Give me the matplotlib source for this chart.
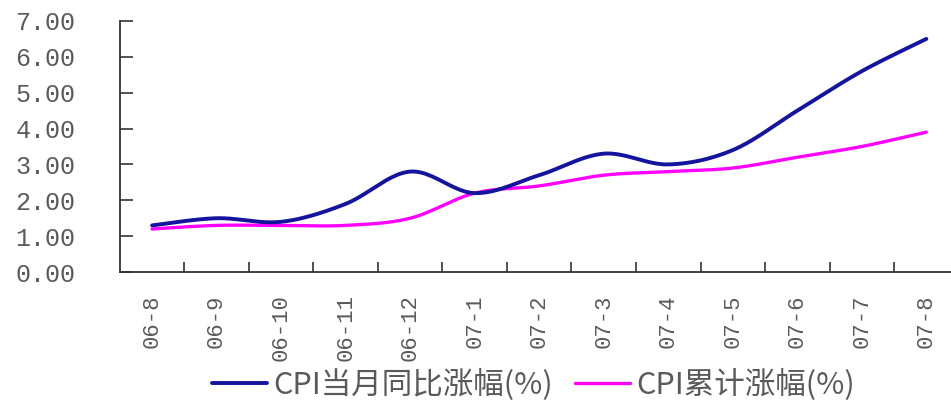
import numpy as np
import matplotlib
matplotlib.use("Agg")
import matplotlib.pyplot as plt
from matplotlib.ticker import FixedLocator, NullFormatter

months = ["06-8", "06-9", "06-10", "06-11", "06-12", "07-1", "07-2",
          "07-3", "07-4", "07-5", "07-6", "07-7", "07-8"]
cpi_monthly = [1.3, 1.5, 1.4, 1.9, 2.8, 2.2, 2.7, 3.3, 3.0, 3.4, 4.5, 5.6, 6.5]
cpi_cumulative = [1.2, 1.3, 1.3, 1.3, 1.5, 2.2, 2.4, 2.7, 2.8, 2.9, 3.2, 3.5, 3.9]

label_monthly = "CPI当月同比涨幅(%)"
label_cumulative = "CPI累计涨幅(%)"

GREY = "#5a5a5a"


def smooth(ys, steps=24):
    """Catmull-Rom curve through the points, like a smoothed line chart."""
    xs = np.arange(len(ys), dtype=float)
    ys = np.asarray(ys, dtype=float)
    px = np.concatenate([[xs[0]], xs, [xs[-1]]])
    py = np.concatenate([[ys[0]], ys, [ys[-1]]])
    out_x, out_y = [], []
    t = np.linspace(0, 1, steps, endpoint=False)
    for i in range(1, len(px) - 2):
        p0, p1, p2, p3 = (np.array([px[j], py[j]]) for j in range(i - 1, i + 3))
        c1 = p1 + (p2 - p0) / 6
        c2 = p2 - (p3 - p1) / 6
        b = ((1 - t) ** 3)[:, None] * p1 + (3 * (1 - t) ** 2 * t)[:, None] * c1 \
            + (3 * (1 - t) * t ** 2)[:, None] * c2 + (t ** 3)[:, None] * p2
        out_x.extend(b[:, 0])
        out_y.extend(b[:, 1])
    out_x.append(xs[-1])
    out_y.append(ys[-1])
    return out_x, out_y


plt.rcParams["font.family"] = ["Noto Sans CJK SC", "DejaVu Sans"]

fig = plt.figure(figsize=(9.51, 4.03), dpi=100)
ax = fig.add_axes([0.126, 0.325, 0.882, 0.623])

x1, y1 = smooth(cpi_monthly)
x2, y2 = smooth(cpi_cumulative)
ax.plot(x2, y2, color="#ff00ff", lw=2.4, solid_capstyle="round",
        label=label_cumulative, zorder=2)
ax.plot(x1, y1, color="#14149c", lw=2.8, solid_capstyle="round",
        label=label_monthly, zorder=3)

ax.set_xlim(-0.5, len(months) - 0.5)
ax.set_ylim(0, 7)

# category labels in the middle, tick marks on the boundaries
ax.set_xticks(range(len(months)))
ax.set_xticklabels(months, rotation=90, family="Liberation Mono",
                   fontsize=16, color=GREY)
ax.xaxis.set_minor_locator(FixedLocator(np.arange(0.5, len(months) - 0.4, 1)))
ax.xaxis.set_minor_formatter(NullFormatter())
ax.tick_params(axis="x", which="major", length=0, pad=16)
ax.tick_params(axis="x", which="minor", direction="in", length=7,
               width=1.2, color="#333333")

ax.set_yticks(range(8))
ax.set_yticklabels(["%.2f" % v for v in range(8)], family="Liberation Mono",
                   fontsize=18, color=GREY)
ax.tick_params(axis="y", direction="in", length=9, width=1.2,
               color="#333333", pad=32)

for side in ("top", "right"):
    ax.spines[side].set_visible(False)
for side in ("left", "bottom"):
    ax.spines[side].set_color("#333333")
    ax.spines[side].set_linewidth(1.3)

handles, labels = ax.get_legend_handles_labels()
fig.legend(handles[::-1], labels[::-1], loc="center", ncol=2,
           bbox_to_anchor=(0.561, 0.045), frameon=False, fontsize=22,
           handlelength=1.8, handletextpad=0.2, columnspacing=0.7,
           labelcolor=GREY, borderaxespad=0)

fig.savefig("out.png", dpi=100)
